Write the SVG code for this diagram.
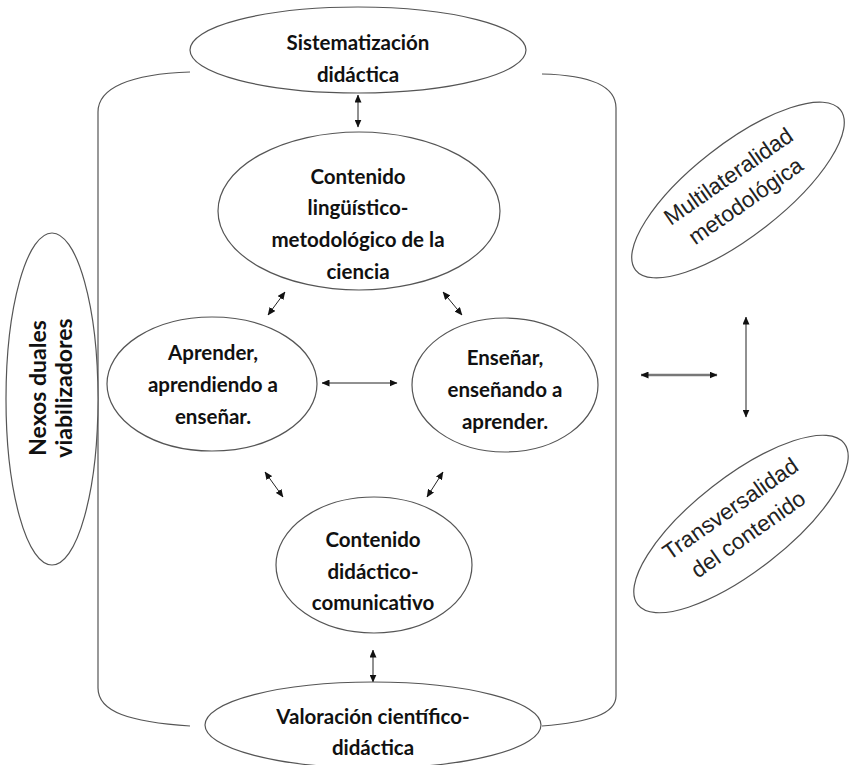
<svg xmlns="http://www.w3.org/2000/svg" width="849" height="765" viewBox="0 0 849 765">
<style>
.shape{fill:#fff;stroke:#555;stroke-width:1.2}
.frame{fill:none;stroke:#555;stroke-width:1.2}
.lbl{font-family:Lato,"Liberation Sans",sans-serif;font-weight:700;font-size:20.5px;text-anchor:middle;fill:#111}
.big{font-size:23px}
.rlbl{font-family:"Liberation Sans",Arial,sans-serif;font-size:22.5px;text-anchor:middle;fill:#222}
.con{fill:none;stroke:#222;stroke-width:1;marker-start:url(#ah);marker-end:url(#ah)}
.thick{stroke:#777;stroke-width:2.5}
</style>
<defs>
<marker id="ah" viewBox="0 0 8 7" refX="7.5" refY="3.5" markerWidth="8" markerHeight="7" markerUnits="userSpaceOnUse" orient="auto-start-reverse">
<path d="M0,0 L8,3.5 L0,7 z" fill="#111"/>
</marker>
</defs>
<rect width="849" height="765" fill="#fff"/>
<g id="frame">
<path class="frame" d="M190,72 C130,74 98,88 98,112 L98,688 C98,712 130,722 190,726"/>
<path class="frame" d="M542,74 C590,75 616,86 616,108 L616,696 C616,714 590,722 542,726"/>
</g>
<g id="connectors">
<line class="con" x1="358" y1="95" x2="358" y2="127"/>
<line class="con" x1="285" y1="292" x2="268" y2="315"/>
<line class="con" x1="443" y1="292" x2="462" y2="315"/>
<line class="con" x1="322" y1="383" x2="397" y2="383"/>
<line class="con" x1="265" y1="472" x2="283" y2="497"/>
<line class="con" x1="443" y1="472" x2="427" y2="497"/>
<line class="con" x1="373" y1="650" x2="373" y2="682"/>
<line class="con thick" x1="641" y1="375" x2="717" y2="375"/>
<line class="con" x1="746" y1="317" x2="746" y2="417"/>
</g>
<g id="sistematizacion">
<ellipse class="shape" cx="358" cy="50" rx="168" ry="43"/>
<text class="lbl" x="358" y="50">Sistematización</text>
<text class="lbl" x="358" y="82">didáctica</text>
</g>
<g id="contenido-linguistico">
<ellipse class="shape" cx="359" cy="211" rx="141" ry="79"/>
<text class="lbl" x="358" y="184">Contenido</text>
<text class="lbl" x="358" y="215">lingüístico-</text>
<text class="lbl" x="358" y="247">metodológico de la</text>
<text class="lbl" x="358" y="279">ciencia</text>
</g>
<g id="aprender">
<ellipse class="shape" cx="212" cy="384" rx="105" ry="67"/>
<text class="lbl" x="213" y="360">Aprender,</text>
<text class="lbl" x="213" y="392">aprendiendo a</text>
<text class="lbl" x="213" y="424">enseñar.</text>
</g>
<g id="ensenar">
<ellipse class="shape" cx="505" cy="385" rx="93" ry="67"/>
<text class="lbl" x="505" y="365">Enseñar,</text>
<text class="lbl" x="505" y="397">enseñando a</text>
<text class="lbl" x="505" y="429">aprender.</text>
</g>
<g id="contenido-didactico">
<ellipse class="shape" cx="374" cy="565" rx="98" ry="68"/>
<text class="lbl" x="373" y="547">Contenido</text>
<text class="lbl" x="373" y="579">didáctico-</text>
<text class="lbl" x="373" y="610">comunicativo</text>
</g>
<g id="valoracion">
<ellipse class="shape" cx="373" cy="725" rx="168" ry="43"/>
<text class="lbl" x="373" y="724">Valoración científico-</text>
<text class="lbl" x="373" y="755">didáctica</text>
</g>
<g id="nexos">
<ellipse class="shape" cx="52" cy="399" rx="46" ry="166"/>
<g transform="translate(52,388) rotate(-90)">
<text class="lbl big" x="0" y="-6">Nexos duales</text>
<text class="lbl big" x="0" y="20">viabilizadores</text>
</g>
</g>
<g id="multilateralidad" transform="translate(738,190)">
<ellipse class="shape" cx="0" cy="0" rx="130" ry="46" transform="rotate(-38)"/>
<g transform="rotate(-35)">
<text class="rlbl" x="0" y="-9">Multilateralidad</text>
<text class="rlbl" x="0" y="21">metodológica</text>
</g>
</g>
<g id="transversalidad" transform="translate(741,524)">
<ellipse class="shape" cx="0" cy="0" rx="131" ry="47" transform="rotate(-38)"/>
<g transform="rotate(-35)">
<text class="rlbl" x="0" y="-11">Transversalidad</text>
<text class="rlbl" x="0" y="20">del contenido</text>
</g>
</g>
</svg>
